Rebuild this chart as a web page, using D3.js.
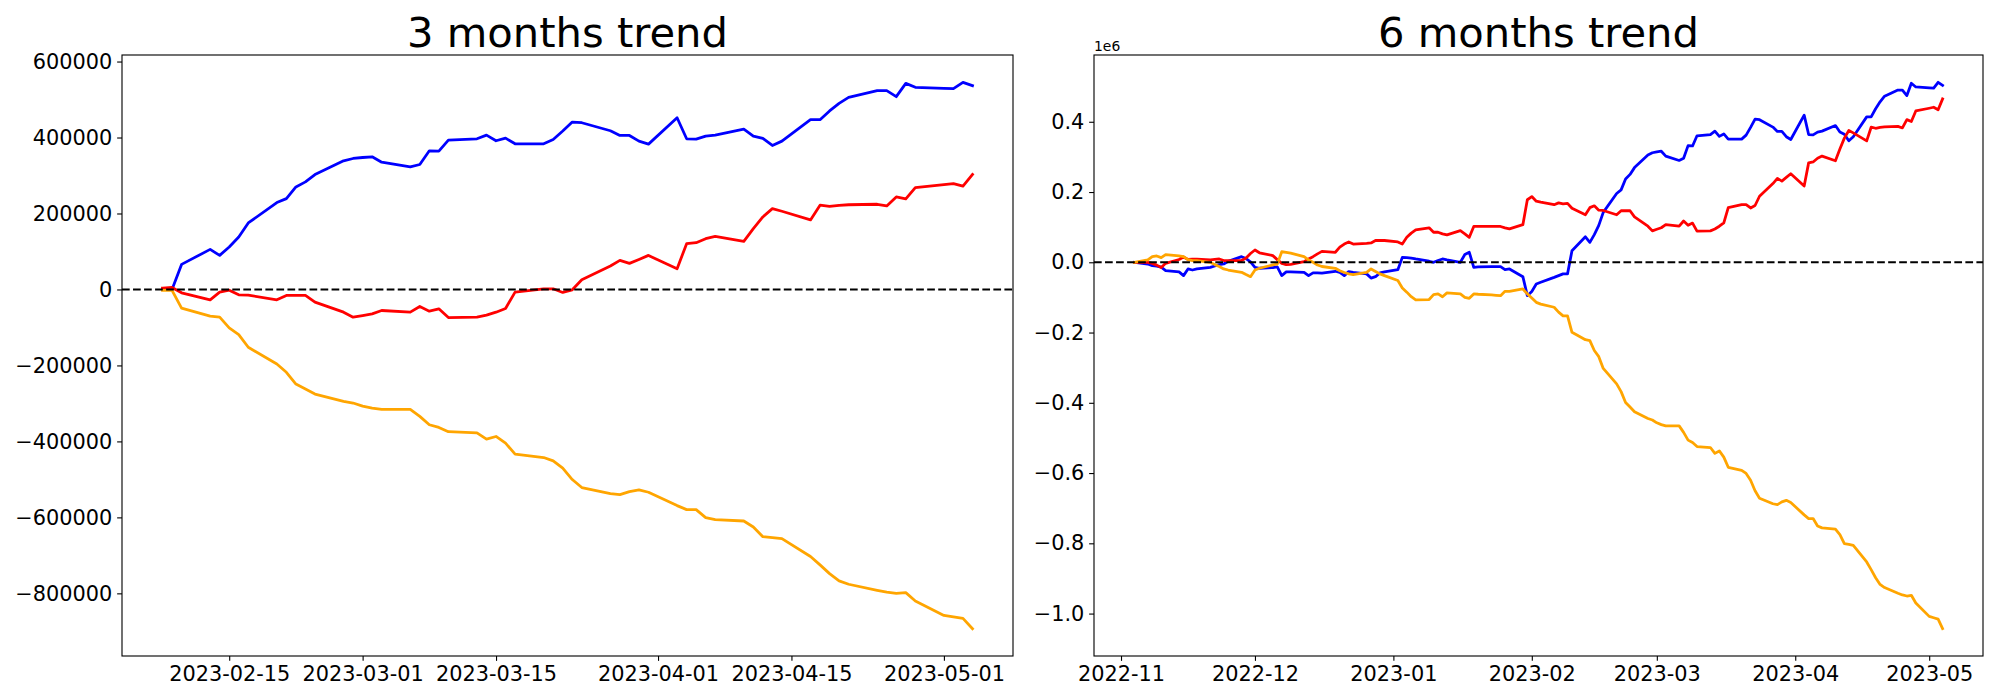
<!DOCTYPE html>
<html><head><meta charset="utf-8">
<script src="https://cdn.jsdelivr.net/npm/d3@7"></script>
<style>body{margin:0;background:#fff} svg{display:block} text{font-family:"DejaVu Sans",sans-serif}</style>
</head><body><svg id="c" width="2000" height="700"></svg>
<script>
// ---------- 3 months data ----------
const dates3m = ["2023-02-08","2023-02-09","2023-02-10","2023-02-13","2023-02-14","2023-02-15","2023-02-16","2023-02-17","2023-02-20","2023-02-21","2023-02-22","2023-02-23","2023-02-24","2023-02-27","2023-02-28","2023-03-01","2023-03-02","2023-03-03","2023-03-06","2023-03-07","2023-03-08","2023-03-09","2023-03-10","2023-03-13","2023-03-14","2023-03-15","2023-03-16","2023-03-17","2023-03-20","2023-03-21","2023-03-22","2023-03-23","2023-03-24","2023-03-27","2023-03-28","2023-03-29","2023-03-30","2023-03-31","2023-04-03","2023-04-04","2023-04-05","2023-04-06","2023-04-07","2023-04-10","2023-04-11","2023-04-12","2023-04-13","2023-04-14","2023-04-17","2023-04-18","2023-04-19","2023-04-20","2023-04-21","2023-04-24","2023-04-25","2023-04-26","2023-04-27","2023-04-28","2023-05-01","2023-05-02","2023-05-03","2023-05-04"];
const blue3m = [0,0,66000,105500,89700,111700,138000,175000,228700,239200,270000,283200,302500,338600,344800,347400,349200,335000,322800,329000,365000,364100,393100,396700,406300,391400,398400,383500,383500,394900,417000,440600,438900,417800,405400,405400,390500,382600,452000,396700,395800,403700,406300,422200,403700,397500,379000,390500,447000,447000,470000,489900,505700,523300,523300,507500,542600,532100,529500,528600,545300,536500];
const red3m = [3500,5300,-8800,-27300,-7000,-1800,-14100,-15000,-27300,-15800,-15800,-15800,-33400,-59800,-73000,-68600,-64200,-55400,-59800,-44900,-57200,-51000,-74000,-73000,-67700,-59800,-50100,-7000,1800,1800,-7900,-900,25500,61600,76500,68600,79000,89700,54500,120500,123100,133700,139800,126600,160100,190900,212800,205800,183000,222000,219000,221600,223000,224300,219900,243600,238300,268300,276000,278800,271800,302500];
const orange3m = [-2600,-2600,-49300,-70400,-73000,-101100,-118700,-152200,-196200,-218100,-248900,-262100,-275300,-294600,-299000,-307000,-312200,-315700,-315700,-334200,-356200,-363200,-374500,-377300,-394000,-387000,-404600,-433600,-442400,-451200,-470500,-500400,-521500,-537400,-540000,-532100,-527700,-533800,-569000,-579600,-579600,-600700,-606000,-609500,-625300,-650800,-653000,-656000,-703000,-725000,-748000,-767000,-776000,-792000,-797000,-800000,-798000,-820000,-858000,-862000,-866000,-893000];
const xTicks3m = ["2023-02-15","2023-03-01","2023-03-15","2023-04-01","2023-04-15","2023-05-01"];
const yTicks3m = [-800000,-600000,-400000,-200000,0,200000,400000,600000];

// ---------- 6 months data (values in units of 1e6) ----------
const dates6m = ["2022-11-04","2022-11-07","2022-11-08","2022-11-09","2022-11-10","2022-11-11","2022-11-14","2022-11-15","2022-11-16","2022-11-17","2022-11-18","2022-11-21","2022-11-22","2022-11-23","2022-11-24","2022-11-25","2022-11-28","2022-11-29","2022-11-30","2022-12-01","2022-12-02","2022-12-05","2022-12-06","2022-12-07","2022-12-08","2022-12-09","2022-12-12","2022-12-13","2022-12-14","2022-12-15","2022-12-16","2022-12-19","2022-12-20","2022-12-21","2022-12-22","2022-12-23","2022-12-26","2022-12-27","2022-12-28","2022-12-29","2022-12-30","2023-01-02","2023-01-03","2023-01-04","2023-01-05","2023-01-06","2023-01-09","2023-01-10","2023-01-11","2023-01-12","2023-01-13","2023-01-16","2023-01-17","2023-01-18","2023-01-19","2023-01-20","2023-01-23","2023-01-24","2023-01-25","2023-01-26","2023-01-27","2023-01-30","2023-01-31","2023-02-01","2023-02-02","2023-02-03","2023-02-06","2023-02-07","2023-02-08","2023-02-09","2023-02-10","2023-02-13","2023-02-14","2023-02-15","2023-02-16","2023-02-17","2023-02-20","2023-02-21","2023-02-22","2023-02-23","2023-02-24","2023-02-27","2023-02-28","2023-03-01","2023-03-02","2023-03-03","2023-03-06","2023-03-07","2023-03-08","2023-03-09","2023-03-10","2023-03-13","2023-03-14","2023-03-15","2023-03-16","2023-03-17","2023-03-20","2023-03-21","2023-03-22","2023-03-23","2023-03-24","2023-03-27","2023-03-28","2023-03-29","2023-03-30","2023-03-31","2023-04-03","2023-04-04","2023-04-05","2023-04-06","2023-04-07","2023-04-10","2023-04-11","2023-04-12","2023-04-13","2023-04-14","2023-04-17","2023-04-18","2023-04-19","2023-04-20","2023-04-21","2023-04-24","2023-04-25","2023-04-26","2023-04-27","2023-04-28","2023-05-01","2023-05-02","2023-05-03","2023-05-04"];
const blue6m = [0.000,-0.005,-0.0095,-0.011,-0.014,-0.024,-0.0275,-0.038,-0.019,-0.022,-0.019,-0.0143,-0.0105,-0.0067,-0.0048,0.003,0.016,0.0105,0.001,-0.0143,-0.017,-0.015,-0.013,-0.038,-0.0275,-0.0275,-0.0285,-0.038,-0.030,-0.030,-0.031,-0.0256,-0.029,-0.038,-0.0266,-0.0285,-0.033,-0.045,-0.041,-0.030,-0.0275,-0.021,0.014,0.013,0.012,0.0095,0.003,0.000,0.005,0.0095,0.0067,0.000,0.022,0.0285,-0.0143,-0.013,-0.0124,-0.0124,-0.0124,-0.021,-0.019,-0.041,-0.095,-0.083,-0.062,-0.057,-0.043,-0.038,
 -0.033,-0.033,0.033,0.0725,0.0567,0.0787,0.105,0.142,0.1957,0.2062,0.237,0.2502,0.2695,0.3056,0.3118,0.3144,0.3162,0.302,0.2898,0.296,0.332,0.3311,0.3601,0.3637,0.3733,0.3584,0.3654,0.3505,0.3505,0.3619,0.384,0.4076,0.4059,0.3848,0.3724,0.3724,0.3575,0.3496,0.419,0.3637,0.3628,0.3707,0.3733,0.3892,0.3707,0.3645,0.346,0.3575,0.414,0.414,0.437,0.4569,0.4727,0.4903,0.4903,0.4745,0.5096,0.4991,0.4965,0.4956,0.5123,0.5035];
const red6m = [0.000,0.000,-0.003,-0.008,-0.015,-0.003,0.008,0.015,0.008,0.009,0.009,0.0067,0.008,0.0095,0.005,0.005,0.005,0.012,0.025,0.035,0.027,0.019,0.0076,-0.003,-0.0067,-0.0057,0.002,0.0095,0.016,0.024,0.031,0.0285,0.043,0.052,0.058,0.052,0.054,0.055,0.062,0.062,0.062,0.058,0.052,0.071,0.083,0.092,0.098,0.0855,0.0855,0.081,0.078,0.090,0.081,0.071,0.102,0.102,0.102,0.102,0.102,0.098,0.095,0.107,0.178,0.187,0.174,0.171,0.164,0.169,
 0.166,0.1678,0.1537,0.1352,0.1555,0.1607,0.1484,0.1475,0.1352,0.1467,0.1467,0.1467,0.1291,0.1027,0.0895,0.0939,0.0983,0.1071,0.1027,0.1176,0.1053,0.1115,0.0885,0.0895,0.0948,0.1027,0.1124,0.1555,0.1643,0.1643,0.1546,0.1616,0.188,0.2241,0.239,0.2311,0.2415,0.2522,0.217,0.283,0.2856,0.2962,0.3023,0.2891,0.3226,0.3534,0.3753,0.3683,0.3455,0.3845,0.3815,0.3841,0.3855,0.3868,0.3824,0.4061,0.4008,0.4308,0.4385,0.4413,0.4343,0.465];
const orange6m = [0.000,0.0067,0.016,0.018,0.0133,0.022,0.018,0.016,0.0076,0.0047,0.0047,0.000,-0.0067,-0.012,-0.019,-0.022,-0.0285,-0.035,-0.041,-0.022,-0.017,-0.0076,-0.005,0.030,0.0285,0.026,0.016,0.0067,0.000,-0.0076,-0.012,-0.017,-0.024,-0.029,-0.033,-0.035,-0.0285,-0.019,-0.026,-0.033,-0.038,-0.052,-0.073,-0.085,-0.098,-0.107,-0.106,-0.092,-0.090,-0.098,-0.087,-0.090,-0.0997,-0.1026,-0.090,-0.091,-0.093,-0.094,-0.095,-0.0826,-0.0826,-0.076,-0.090,-0.1016,-0.114,-0.119,-0.128,-0.142,
 -0.1526,-0.1526,-0.1993,-0.2204,-0.223,-0.2511,-0.2687,-0.3022,-0.3462,-0.3681,-0.3989,-0.4121,-0.4253,-0.4446,-0.449,-0.457,-0.4622,-0.4657,-0.4657,-0.4842,-0.5062,-0.5132,-0.5245,-0.5273,-0.544,-0.537,-0.5546,-0.5836,-0.5924,-0.6012,-0.6205,-0.6504,-0.6715,-0.6874,-0.69,-0.6821,-0.6777,-0.6838,-0.719,-0.7296,-0.7296,-0.7507,-0.756,-0.7595,-0.7753,-0.8008,-0.803,-0.806,-0.853,-0.875,-0.898,-0.917,-0.926,-0.942,-0.947,-0.95,-0.948,-0.97,-1.008,-1.012,-1.016,-1.043];
const xTicks6m = ["2022-11-01","2022-12-01","2023-01-01","2023-02-01","2023-03-01","2023-04-01","2023-05-01"];
const yTicks6m = [-1.0,-0.8,-0.6,-0.4,-0.2,0.0,0.2,0.4];

const seriesColors = ["blue","red","orange"];

const svg = d3.select("#c");
const parse = d3.timeParse("%Y-%m-%d");
const TICK_FS = 20.83, TICK_LEN = 4.86, TICK_PAD = 4.86;

function panel(cfg) {
  const {left, right, top, bottom} = cfg.box;
  const dates = cfg.dates.map(parse);
  const t0 = d3.min(dates).getTime(), t1 = d3.max(dates).getTime();
  const tp = (t1 - t0) * 0.05;
  const x = d3.scaleTime().domain([new Date(t0 - tp), new Date(t1 + tp)]).range([left, right]);
  const all = cfg.series.flat();
  const vmin = d3.min(all), vmax = d3.max(all), vp = (vmax - vmin) * 0.05;
  const y = d3.scaleLinear().domain([vmin - vp, vmax + vp]).range([bottom, top]);
  const g = svg.append("g");

  const line = d3.line().x((d, i) => x(dates[i])).y(d => y(d));
  cfg.series.forEach((s, k) => {
    g.append("path").attr("d", line(s)).attr("fill", "none")
      .attr("stroke", seriesColors[k]).attr("stroke-width", 2.78)
      .attr("stroke-linejoin", "round").attr("stroke-linecap", "square");
  });
  g.append("line").attr("x1", left).attr("x2", right).attr("y1", y(0)).attr("y2", y(0))
    .attr("stroke", "black").attr("stroke-width", 2.08).attr("stroke-dasharray", "7.7,3.33");

  const xa = g.append("g").attr("transform", `translate(0,${bottom})`)
    .call(d3.axisBottom(x).tickValues(cfg.xTicks.map(parse)).tickFormat(d3.timeFormat(cfg.xFmt))
      .tickSize(TICK_LEN).tickPadding(TICK_PAD));
  const ya = g.append("g").attr("transform", `translate(${left},0)`)
    .call(d3.axisLeft(y).tickValues(cfg.yTicks).tickFormat(cfg.yFmt)
      .tickSize(TICK_LEN).tickPadding(TICK_PAD));
  [xa, ya].forEach(a => {
    a.select(".domain").remove();
    a.selectAll("line").attr("stroke", "black").attr("stroke-width", 1.11);
    a.selectAll("text").attr("font-family", "DejaVu Sans").attr("font-size", TICK_FS).attr("fill", "black");
  });

  g.append("rect").attr("x", left).attr("y", top).attr("width", right - left).attr("height", bottom - top)
    .attr("fill", "none").attr("stroke", "black").attr("stroke-width", 1.11);

  g.append("text").attr("x", (left + right) / 2).attr("y", top - 8.3).attr("text-anchor", "middle")
    .attr("font-size", 41.67).attr("fill", "black").text(cfg.title);
  if (cfg.offsetText) {
    g.append("text").attr("x", left).attr("y", top - 4.5).attr("font-size", 13.9).attr("fill", "black").text(cfg.offsetText);
  }
}

panel({
  box: {left: 122, right: 1013, top: 55, bottom: 656},
  dates: dates3m, series: [blue3m, red3m, orange3m],
  xTicks: xTicks3m, xFmt: "%Y-%m-%d", yTicks: yTicks3m, yFmt: d3.format("d"),
  title: "3 months trend"
});
panel({
  box: {left: 1094, right: 1983, top: 55, bottom: 656},
  dates: dates6m, series: [blue6m, red6m, orange6m],
  xTicks: xTicks6m, xFmt: "%Y-%m", yTicks: yTicks6m, yFmt: d3.format(".1f"),
  title: "6 months trend", offsetText: "1e6"
});
</script></body></html>
